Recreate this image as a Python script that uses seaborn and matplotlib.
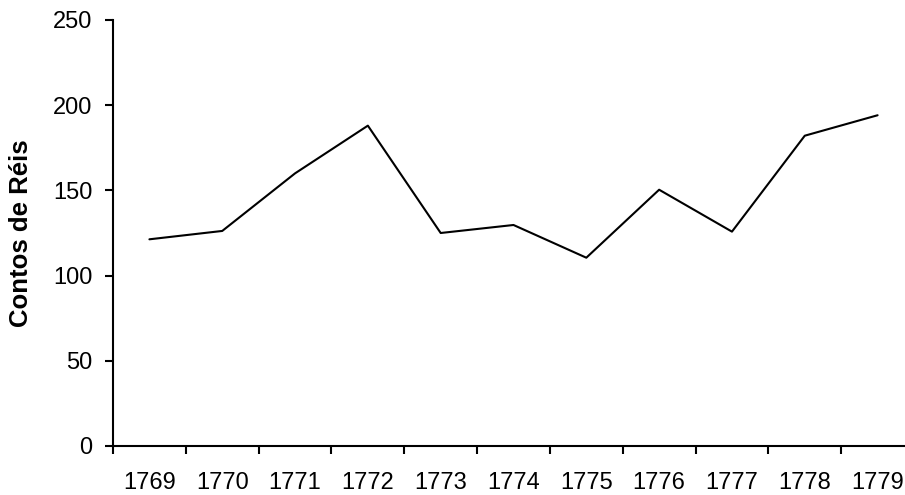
import matplotlib
matplotlib.use("Agg")
import matplotlib.pyplot as plt
import seaborn as sns
import numpy as np
import pandas as pd

years = [1769, 1770, 1771, 1772, 1773, 1774, 1775, 1776, 1777, 1778, 1779]
values = [121.3, 126.2, 160.0, 188.0, 125.0, 129.7, 110.5, 150.4, 125.8, 182.1, 194.1]
y_ticks = [0, 50, 100, 150, 200, 250]
y_label = "Contos de Réis"

sns.set_theme(style="white")
plt.rcParams['font.family'] = ['Liberation Sans', 'DejaVu Sans']
plt.rcParams['text.color'] = 'black'
plt.rcParams['xtick.color'] = 'black'
plt.rcParams['ytick.color'] = 'black'
plt.rcParams['axes.labelcolor'] = 'black'

df = pd.DataFrame({"year": years, "value": values})

fig = plt.figure(figsize=(9.05, 4.95), dpi=100)
ax = fig.add_axes([113 / 905, 1 - 446 / 495, (914 - 113) / 905, 426 / 495])

sns.lineplot(data=df, x="year", y="value", ax=ax, color="black", linewidth=1.5)

ax.set_xlim(years[0] - 0.5, years[-1] + 0.5)
ax.set_ylim(y_ticks[0], y_ticks[-1])
ax.set_yticks(y_ticks)
ax.set_yticklabels([str(t) for t in y_ticks], fontsize=17)

ax.set_xticks(np.arange(years[0] - 0.5, years[-1] + 1, 1))
ax.set_xticklabels([])
ax.set_xticks(years, minor=True)
ax.set_xticklabels([str(y) for y in years], minor=True, fontsize=17)

ax.tick_params(axis="x", which="major", direction="out", length=6, width=1.5, color="black", bottom=True)
ax.tick_params(axis="x", which="minor", length=0, pad=19, bottom=True, labelcolor="black")
ax.tick_params(axis="y", which="major", direction="out", length=6, width=1.5, color="black", pad=9, left=True, labelcolor="black")

for s in ["top", "right"]:
    ax.spines[s].set_visible(False)
for s in ["left", "bottom"]:
    ax.spines[s].set_color("black")
    ax.spines[s].set_linewidth(1.5)

ax.set_xlabel("")
ax.set_ylabel(y_label, fontsize=18.5, fontweight="bold", color="black")
ax.yaxis.set_label_coords(-(113 - 33) / (914 - 113), 0.5)

fig.savefig("out.png", dpi=100)
